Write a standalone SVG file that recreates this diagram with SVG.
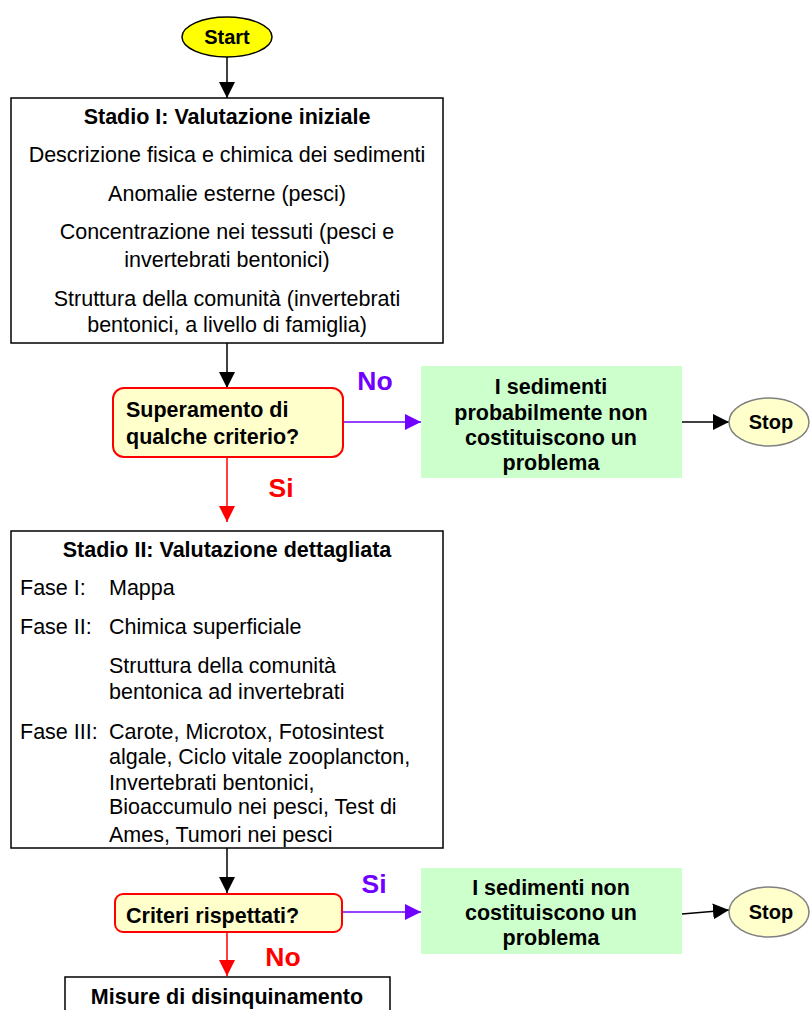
<svg xmlns="http://www.w3.org/2000/svg" width="810" height="1010" viewBox="0 0 810 1010">
<style>
text{font-family:"Liberation Sans",Arial,sans-serif;fill:#000}
.t{font-size:21.5px}
.b{font-size:21.5px;font-weight:bold}
.s{font-size:20px;font-weight:bold}
.c{text-anchor:middle}
.box{fill:#fff;stroke:#000;stroke-width:1.5}
.dec{fill:#FFFFCC;stroke:#FF0000;stroke-width:2}
.green{fill:#CCFFCC;stroke:none}
.term{fill:#FFFFCC;stroke:#808080;stroke-width:1.5}
.lbl{font-size:26.5px;font-weight:bold;text-anchor:middle}
</style>
<defs>
<marker id="ak" viewBox="0 0 10 10" refX="10" refY="5" markerWidth="16" markerHeight="16" markerUnits="userSpaceOnUse" orient="auto"><path d="M0,0 L10,5 L0,10 Z" fill="#000"/></marker>
<marker id="ar" viewBox="0 0 10 10" refX="10" refY="5" markerWidth="16" markerHeight="16" markerUnits="userSpaceOnUse" orient="auto"><path d="M0,0 L10,5 L0,10 Z" fill="#FF0000"/></marker>
<marker id="ap" viewBox="0 0 10 10" refX="10" refY="5" markerWidth="16" markerHeight="16" markerUnits="userSpaceOnUse" orient="auto"><path d="M0,0 L10,5 L0,10 Z" fill="#7000FF"/></marker>
</defs>
<g id="connectors" fill="none" stroke-width="1.5">
<line x1="227" y1="57" x2="227" y2="98" stroke="#000" marker-end="url(#ak)"/>
<line x1="227" y1="343" x2="227" y2="388" stroke="#000" marker-end="url(#ak)"/>
<line x1="343" y1="422" x2="421" y2="422" stroke="#7000FF" marker-end="url(#ap)"/>
<line x1="682" y1="422" x2="729" y2="422" stroke="#000" marker-end="url(#ak)"/>
<line x1="227" y1="457" x2="227" y2="522" stroke="#FF0000" marker-end="url(#ar)"/>
<line x1="227" y1="848" x2="227" y2="893" stroke="#000" marker-end="url(#ak)"/>
<line x1="342" y1="912" x2="421" y2="912" stroke="#7000FF" marker-end="url(#ap)"/>
<line x1="682" y1="914" x2="729" y2="910" stroke="#000" marker-end="url(#ak)"/>
<line x1="227" y1="932" x2="227" y2="976" stroke="#FF0000" marker-end="url(#ar)"/>
<text class="lbl" x="375" y="390" style="fill:#7000FF">No</text>
<text class="lbl" x="281" y="497" style="fill:#FF0000">Si</text>
<text class="lbl" x="374" y="893" style="fill:#7000FF">Si</text>
<text class="lbl" x="283" y="966" style="fill:#FF0000">No</text>
</g>
<g id="start">
<ellipse cx="227" cy="37" rx="45" ry="20" fill="#FFFF00" stroke="#000" stroke-width="1.5"/>
<text class="s c" x="227" y="44">Start</text>
</g>
<g id="stage1">
<rect class="box" x="11" y="98" width="432" height="245"/>
<text class="b c" x="227" y="124">Stadio I: Valutazione iniziale</text>
<text class="t c" x="227" y="162">Descrizione fisica e chimica dei sedimenti</text>
<text class="t c" x="227" y="201">Anomalie esterne (pesci)</text>
<text class="t c" x="227" y="239">Concentrazione nei tessuti (pesci e</text>
<text class="t c" x="227" y="267">invertebrati bentonici)</text>
<text class="t c" x="227" y="306">Struttura della comunità (invertebrati</text>
<text class="t c" x="227" y="332">bentonici, a livello di famiglia)</text>
</g>
<g id="decision1">
<rect class="dec" x="113" y="388" width="230" height="69" rx="11"/>
<text class="b" x="126" y="417">Superamento di</text>
<text class="b" x="126" y="444">qualche criterio?</text>
</g>
<g id="result1">
<rect class="green" x="421" y="366" width="261" height="112"/>
<text class="b c" x="551" y="394">I sedimenti</text>
<text class="b c" x="551" y="420">probabilmente non</text>
<text class="b c" x="551" y="445">costituiscono un</text>
<text class="b c" x="551" y="470">problema</text>
</g>
<g id="stop1">
<ellipse class="term" cx="769" cy="422" rx="40" ry="24"/>
<text class="s c" x="771" y="429">Stop</text>
</g>
<g id="stage2">
<rect class="box" x="11" y="531" width="432" height="317"/>
<text class="b c" x="227" y="557">Stadio II: Valutazione dettagliata</text>
<text class="t" x="20" y="595">Fase I:</text>
<text class="t" x="109" y="595">Mappa</text>
<text class="t" x="20" y="634">Fase II:</text>
<text class="t" x="109" y="634">Chimica superficiale</text>
<text class="t" x="109" y="673">Struttura della comunità</text>
<text class="t" x="109" y="699">bentonica ad invertebrati</text>
<text class="t" x="20" y="739">Fase III:</text>
<text class="t" x="109" y="739">Carote, Microtox, Fotosintest</text>
<text class="t" x="109" y="764">algale, Ciclo vitale zooplancton,</text>
<text class="t" x="109" y="790">Invertebrati bentonici,</text>
<text class="t" x="109" y="814">Bioaccumulo nei pesci, Test di</text>
<text class="t" x="109" y="842">Ames, Tumori nei pesci</text>
</g>
<g id="decision2">
<rect class="dec" x="115" y="894" width="227" height="38" rx="8"/>
<text class="b" x="126" y="923">Criteri rispettati?</text>
</g>
<g id="result2">
<rect class="green" x="421" y="868" width="261" height="86"/>
<text class="b c" x="551" y="895">I sedimenti non</text>
<text class="b c" x="551" y="920">costituiscono un</text>
<text class="b c" x="551" y="945">problema</text>
</g>
<g id="stop2">
<ellipse class="term" cx="769" cy="912" rx="40" ry="25"/>
<text class="s c" x="771" y="919">Stop</text>
</g>
<g id="measures">
<rect class="box" x="65" y="977" width="325" height="50"/>
<text class="b c" x="227" y="1004">Misure di disinquinamento</text>
</g>
</svg>
